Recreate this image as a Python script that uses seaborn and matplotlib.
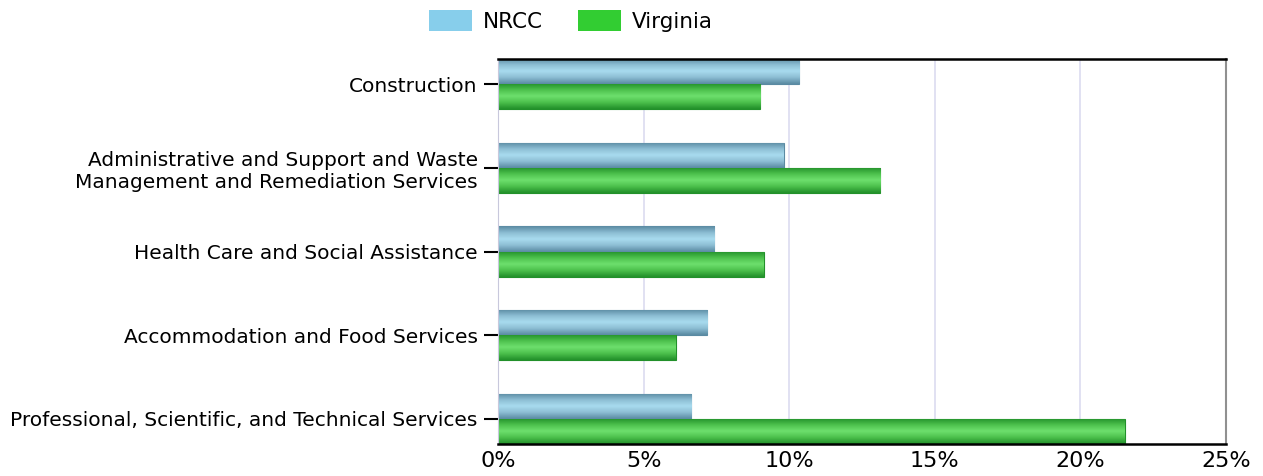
import numpy as np
import pandas as pd
import seaborn as sns
import matplotlib.pyplot as plt
from matplotlib.ticker import PercentFormatter
from matplotlib.patches import Patch
from matplotlib.colors import LinearSegmentedColormap

# Values (percent of employment)
industries = [
    "Construction",
    "Administrative and Support and Waste\nManagement and Remediation Services",
    "Health Care and Social Assistance",
    "Accommodation and Food Services",
    "Professional, Scientific, and Technical Services",
]
nrcc = [10.35, 9.82, 7.42, 7.18, 6.63]
virginia = [9.0, 13.12, 9.13, 6.11, 21.53]
series = ["NRCC", "Virginia"]
legend_colors = ["#87ceeb", "#32cd32"]

df = pd.DataFrame({
    "industry": industries * 2,
    "share": nrcc + virginia,
    "region": ["NRCC"] * len(nrcc) + ["Virginia"] * len(virginia),
})

sns.set_style("white")
plt.rcParams["font.family"] = ["DejaVu Sans"]
plt.rcParams["text.color"] = "black"
plt.rcParams["xtick.color"] = "black"
plt.rcParams["ytick.color"] = "black"

fig = plt.figure(figsize=(12.63, 4.76), dpi=100)
ax = fig.add_axes([0.3943, 0.0672, 0.5764, 0.8088])

sns.barplot(data=df, y="industry", x="share", hue="region", order=industries,
            hue_order=series, palette=legend_colors, width=0.6, orient="h",
            legend=False, ax=ax)

# gradient fill for each bar (dark edges, light middle)
grads = {
    0: ["#5a8aa2", "#8cbdd3", "#a9dcef", "#8cbdd3", "#5a8aa2"],
    1: ["#22902a", "#4cc04c", "#6ee06e", "#4cc04c", "#22902a"],
}
n = len(industries)
for i, p in enumerate(ax.patches[: 2 * n]):
    k = i // n
    cmap = LinearSegmentedColormap.from_list("g%d" % k, grads[k])
    x0, y0 = p.get_x(), p.get_y()
    w, h = p.get_width(), p.get_height()
    g = np.linspace(0, 1, 64).reshape(-1, 1)
    im = ax.imshow(g, cmap=cmap, aspect="auto", extent=[x0, x0 + w, y0 + h, y0],
                   zorder=2, interpolation="bicubic")
    im.set_clip_path(p)
    p.set_edgecolor(grads[k][0])
    p.set_linewidth(0.8)

ax.set_xlim(0, 25)
ax.set_ylim(n - 1 + 0.3, -0.3)
ax.set_xticks([0, 5, 10, 15, 20, 25])
ax.xaxis.set_major_formatter(PercentFormatter(decimals=0))
ax.set_xlabel("")
ax.set_ylabel("")
ax.grid(axis="x", color="#dcdcf0", linewidth=1.2)
ax.set_axisbelow(True)

for side in ["top", "bottom"]:
    ax.spines[side].set_color("black")
    ax.spines[side].set_linewidth(1.8)
ax.spines["left"].set_color("#c8c8dc")
ax.spines["right"].set_color("#909090")
ax.spines["right"].set_linewidth(1.5)

ax.tick_params(axis="y", left=True, length=10, width=1.5, color="black",
               labelsize=14.5, pad=4.5)
ax.tick_params(axis="x", bottom=False, length=0, labelsize=16, pad=5)

handles = [Patch(facecolor=c, edgecolor="none") for c in legend_colors]
fig.legend(handles, series, loc="upper center", bbox_to_anchor=(0.452, 1.02),
           ncol=2, frameon=False, fontsize=15.5, handlelength=2.0,
           handleheight=1.1, handletextpad=0.5, columnspacing=1.6)

fig.savefig("out.png", dpi=100)
